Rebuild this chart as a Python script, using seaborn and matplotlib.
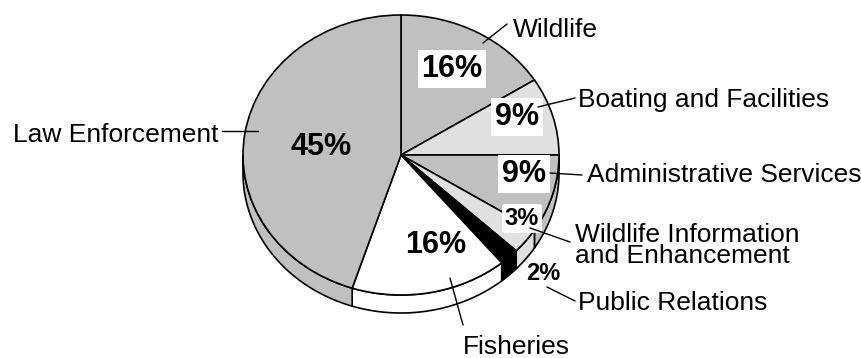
import numpy as np
import matplotlib
matplotlib.use("Agg")
import matplotlib.pyplot as plt
import seaborn as sns
from matplotlib.patches import Polygon

# ---- data ----
categories = ["Wildlife", "Boating and Facilities", "Administrative Services",
              "Wildlife Information\nand Enhancement", "Public Relations",
              "Fisheries", "Law Enforcement"]
shares = [16, 9, 9, 3, 2, 16, 45]
pct_labels = ["16%", "9%", "9%", "3%", "2%", "16%", "45%"]

# ---- style ----
sns.set_theme(style="white")
plt.rcParams["font.family"] = ["Liberation Sans", "DejaVu Sans"]

colors = ["#c0c0c0", "#e0e0e0", "#c0c0c0", "#e0e0e0", "#000000", "#ffffff", "#c0c0c0"]

W, H = 862, 358
CX, CY, RX, RY, DEPTH = 401, 155, 158, 140, 18

fig = plt.figure(figsize=(W / 100, H / 100), dpi=100)
ax = fig.add_axes([0, 0, 1, 1])

wedges, _ = ax.pie(shares, colors=colors, startangle=90, counterclock=False,
                   radius=1, center=(0, 0), frame=False,
                   wedgeprops=dict(edgecolor="black", linewidth=1.2, zorder=3))
ax.set_aspect("auto")
ax.set_xlim(-CX / RX, (W - CX) / RX)
ax.set_ylim(-(H - CY) / RY, CY / RY)
ax.axis("off")

# ---- side band (3D depth) ----
d = DEPTH / RY
for w, c in zip(wedges, colors):
    t1, t2 = w.theta1, w.theta2
    for k in (-2, -1, 0, 1):
        a = max(t1, 180 + 360 * k)
        b = min(t2, 360 + 360 * k)
        if b > a:
            t = np.radians(np.linspace(a, b, 120))
            xs = np.concatenate([np.cos(t), np.cos(t[::-1])])
            ys = np.concatenate([np.sin(t), np.sin(t[::-1]) - d])
            ax.add_patch(Polygon(np.column_stack([xs, ys]), closed=True,
                                 fc=c, ec="black", lw=1.2, zorder=2))


def px(x, y):
    return ((x - CX) / RX, (CY - y) / RY)


# ---- percent labels (pixel positions: center x, baseline y) ----
pct_pos = [(452, 77), (517, 125), (524, 182), (522, 225), (543, 280), (436, 253), (321, 155)]
pct_size = [22, 22, 22, 17, 17, 22, 22]
pct_box = ["square", "square", "square", "round", None, None, None]
for lab, (x, y), s, bx in zip(pct_labels, pct_pos, pct_size, pct_box):
    kw = {}
    if bx:
        kw["bbox"] = dict(boxstyle=f"{bx},pad=0.12", fc="white", ec="none")
    ax.text(*px(x, y), lab, ha="center", va="baseline", fontsize=s,
            fontweight="bold", color="black", zorder=6, **kw)

# ---- category labels (pixel: anchor x, last-line baseline y, ha) ----
lab_pos = [(513, 37, "left"), (578, 107, "left"), (587, 182, "left"),
           (575, 263, "left"), (578, 310, "left"), (463, 354, "left"),
           (219, 142, "right")]
for lab, (x, y, ha) in zip(categories, lab_pos):
    ax.text(*px(x, y), lab, ha=ha, va="baseline", fontsize=19,
            linespacing=0.82, color="black", zorder=6)

# ---- leader lines ----
leaders = [((483, 43), (507, 24)), ((538, 107), (575, 98)),
           ((550, 173), (582, 175)), ((530, 228), (570, 242)),
           ((547, 287), (575, 301)), ((450, 278), (463, 325)),
           ((222, 131), (258, 131))]
for p0, p1 in leaders:
    (x0, y0), (x1, y1) = px(*p0), px(*p1)
    ax.plot([x0, x1], [y0, y1], color="black", lw=1.0, zorder=7)

fig.savefig("out.png", dpi=100)
